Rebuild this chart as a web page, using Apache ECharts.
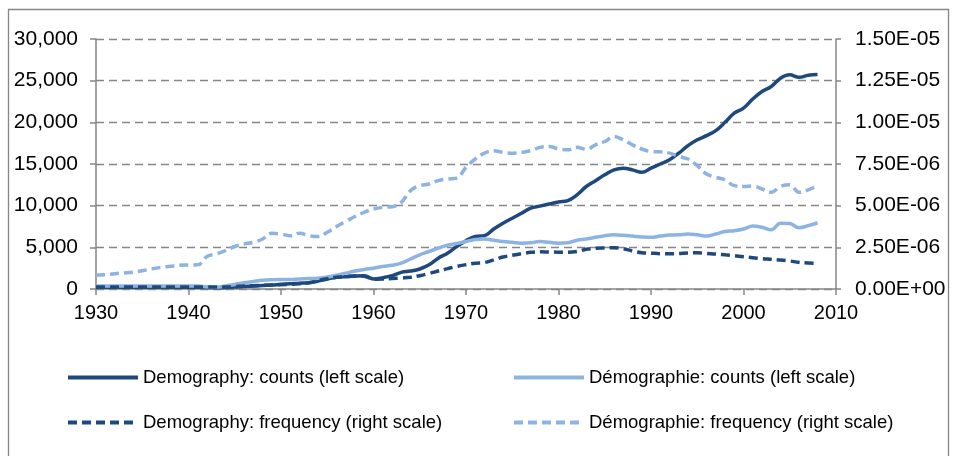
<!DOCTYPE html>
<html>
<head>
<meta charset="utf-8">
<script src="https://cdn.jsdelivr.net/npm/echarts@6/dist/echarts.min.js"></script>
<style>
    html, body { margin: 0; padding: 0; background: #fff; }
    #chart { width: 953px; height: 456px; }
</style>
</head>
<body>
<div id="chart"></div>
<script>
    // years 1930 .. 2008
    var years = [];
    for (var y = 1930; y <= 2008; y++) years.push(y);

    var demographyCounts = [
        200, 200, 200, 200, 200, 200, 200, 200, 200, 200,
        200, 200, 180, 160, 180, 250, 300, 350, 420, 480,
        560, 620, 700, 760, 950, 1200, 1400, 1480, 1560, 1600,
        1200, 1350, 1600, 2000, 2150, 2400, 2900, 3700, 4300, 5100,
        5800, 6300, 6400, 7200, 7900, 8500, 9100, 9700, 9950, 10200,
        10450, 10600, 11300, 12300, 13000, 13700, 14300, 14500, 14300, 14000,
        14500, 15000, 15500, 16300, 17200, 17900, 18400, 19000, 20000, 21100,
        21700, 22800, 23700, 24300, 25300, 25700, 25400, 25650, 25750
    ];
    var demographieCounts = [
        350, 350, 350, 350, 350, 350, 350, 350, 350, 350,
        350, 350, 280, 220, 350, 550, 750, 900, 1050, 1120,
        1150, 1150, 1200, 1250, 1300, 1450, 1650, 1900, 2150, 2350,
        2500, 2700, 2850, 3100, 3600, 4100, 4500, 4900, 5250, 5450,
        5700, 5950, 6000, 5850, 5700, 5600, 5500, 5550, 5700, 5600,
        5500, 5550, 5850, 6000, 6200, 6400, 6500, 6450, 6350, 6250,
        6200, 6350, 6480, 6500, 6600, 6500, 6350, 6600, 6900, 7000,
        7200, 7550, 7400, 7100, 7900, 7850, 7350, 7600, 7950
    ];
    var demographyFreq = [
        1.2e-7, 1.2e-7, 1.2e-7, 1.2e-7, 1.2e-7, 1.2e-7, 1.2e-7, 1.2e-7, 1.2e-7, 1.2e-7,
        1.2e-7, 1.2e-7, 1.2e-7, 1.2e-7, 1.2e-7, 1.5e-7, 1.8e-7, 2.0e-7, 2.2e-7, 2.4e-7,
        2.6e-7, 2.8e-7, 3.2e-7, 3.7e-7, 5.0e-7, 6.2e-7, 7.0e-7, 7.5e-7, 7.8e-7, 7.6e-7,
        5.9e-7, 6.0e-7, 6.3e-7, 6.6e-7, 7.0e-7, 8.0e-7, 9.3e-7, 1.08e-6, 1.22e-6, 1.36e-6,
        1.46e-6, 1.54e-6, 1.59e-6, 1.75e-6, 1.92e-6, 2.02e-6, 2.12e-6, 2.20e-6, 2.23e-6, 2.22e-6,
        2.21e-6, 2.21e-6, 2.25e-6, 2.38e-6, 2.44e-6, 2.46e-6, 2.48e-6, 2.42e-6, 2.28e-6, 2.18e-6,
        2.15e-6, 2.12e-6, 2.11e-6, 2.13e-6, 2.16e-6, 2.17e-6, 2.13e-6, 2.10e-6, 2.05e-6, 2.00e-6,
        1.94e-6, 1.88e-6, 1.82e-6, 1.78e-6, 1.74e-6, 1.68e-6, 1.60e-6, 1.56e-6, 1.54e-6
    ];
    var demographieFreq = [
        8.4e-7, 8.6e-7, 9.2e-7, 9.6e-7, 1.0e-6, 1.1e-6, 1.2e-6, 1.3e-6, 1.36e-6, 1.42e-6,
        1.44e-6, 1.45e-6, 1.95e-6, 2.1e-6, 2.3e-6, 2.55e-6, 2.7e-6, 2.8e-6, 3.0e-6, 3.34e-6,
        3.3e-6, 3.2e-6, 3.35e-6, 3.2e-6, 3.15e-6, 3.4e-6, 3.75e-6, 4.05e-6, 4.35e-6, 4.6e-6,
        4.8e-6, 4.9e-6, 4.93e-6, 5.2e-6, 5.9e-6, 6.2e-6, 6.3e-6, 6.5e-6, 6.6e-6, 6.65e-6,
        7.3e-6, 7.8e-6, 8.15e-6, 8.3e-6, 8.2e-6, 8.15e-6, 8.2e-6, 8.3e-6, 8.5e-6, 8.55e-6,
        8.4e-6, 8.35e-6, 8.5e-6, 8.38e-6, 8.65e-6, 8.85e-6, 9.15e-6, 8.95e-6, 8.65e-6, 8.4e-6,
        8.25e-6, 8.23e-6, 8.15e-6, 7.95e-6, 7.8e-6, 7.4e-6, 6.9e-6, 6.7e-6, 6.55e-6, 6.2e-6,
        6.15e-6, 6.18e-6, 6.0e-6, 5.8e-6, 6.15e-6, 6.25e-6, 5.8e-6, 5.95e-6, 6.2e-6
    ];

    var seriesNames = [
        "Demography: counts (left scale)",
        "Démographie: counts (left scale)",
        "Demography: frequency (right scale)",
        "Démographie: frequency (right scale)"
    ];

    var dark = "#1F497D";
    var light = "#8DB3E2";
    var font = "'Liberation Sans', Arial, sans-serif";

    function pairs(values) {
        var out = [];
        for (var i = 0; i < years.length; i++) out.push([years[i], values[i]]);
        return out;
    }

    function sci(v) {
        var parts = v.toExponential(2).split("e");
        var exp = parseInt(parts[1], 10);
        var sign = exp < 0 ? "-" : "+";
        exp = Math.abs(exp);
        return parts[0] + "E" + sign + (exp < 10 ? "0" : "") + exp;
    }

    function lineSeries(name, values, color, dashed, yAxisIndex) {
        return {
            name: name,
            type: "line",
            yAxisIndex: yAxisIndex,
            smooth: 0.4,
            symbol: "none",
            data: pairs(values),
            lineStyle: {
                color: color,
                width: 3.5,
                type: dashed ? [9, 5] : "solid",
                cap: "butt"
            },
            itemStyle: { color: color }
        };
    }

    var gridLine = { show: true, lineStyle: { color: "#868686", width: 1.3, type: [8, 5] } };
    var axisGray = { show: true, lineStyle: { color: "#868686", width: 1.5 } };

    function legendBlock(names, left) {
        return {
            data: names,
            orient: "vertical",
            left: left, top: 368,
            padding: 0,
            itemWidth: 70, itemHeight: 14, itemGap: 26,
            itemStyle: { opacity: 0 },
            lineStyle: { width: 4 },
            textStyle: { fontSize: 18.5, color: "#000", fontFamily: font }
        };
    }

    var chart = echarts.init(document.getElementById("chart"));
    chart.setOption({
        animation: false,
        textStyle: { fontFamily: font },
        graphic: [{
            type: "rect",
            shape: { x: 8.5, y: 9.5, width: 940, height: 470 },
            style: { fill: "none", stroke: "#868686", lineWidth: 1.3 },
            silent: true,
            z: -1
        }],
        grid: { left: 96, right: 117, top: 39, bottom: 167 },
        legend: [
            legendBlock([seriesNames[0], seriesNames[2]], 66),
            legendBlock([seriesNames[1], seriesNames[3]], 512)
        ],
        xAxis: {
            type: "value",
            min: 1930, max: 2010, interval: 10,
            axisLine: axisGray,
            axisTick: { show: true, length: 6, lineStyle: { color: "#868686", width: 1.5 } },
            splitLine: { show: false },
            axisLabel: {
                fontSize: 20, color: "#000", margin: 14, fontFamily: font,
                formatter: function (v) { return String(v); }
            }
        },
        yAxis: [{
            type: "value",
            min: 0, max: 30000, interval: 5000,
            axisLine: axisGray,
            axisTick: { show: true, length: 6, lineStyle: { color: "#868686", width: 1.5 } },
            splitLine: gridLine,
            axisLabel: {
                fontSize: 21, color: "#000", margin: 18, fontFamily: font,
                formatter: function (v) { return v.toLocaleString("en-US"); }
            }
        }, {
            type: "value",
            min: 0, max: 1.5e-5, interval: 2.5e-6,
            position: "right",
            axisLine: axisGray,
            axisTick: { show: true, length: 5, lineStyle: { color: "#868686", width: 1.5 } },
            splitLine: { show: false },
            axisLabel: {
                fontSize: 21, color: "#000", margin: 19, fontFamily: font,
                formatter: sci
            }
        }],
        series: [
            lineSeries(seriesNames[0], demographyCounts, dark, false, 0),
            lineSeries(seriesNames[1], demographieCounts, light, false, 0),
            lineSeries(seriesNames[2], demographyFreq, dark, true, 1),
            lineSeries(seriesNames[3], demographieFreq, light, true, 1)
        ]
    });
</script>
</body>
</html>
